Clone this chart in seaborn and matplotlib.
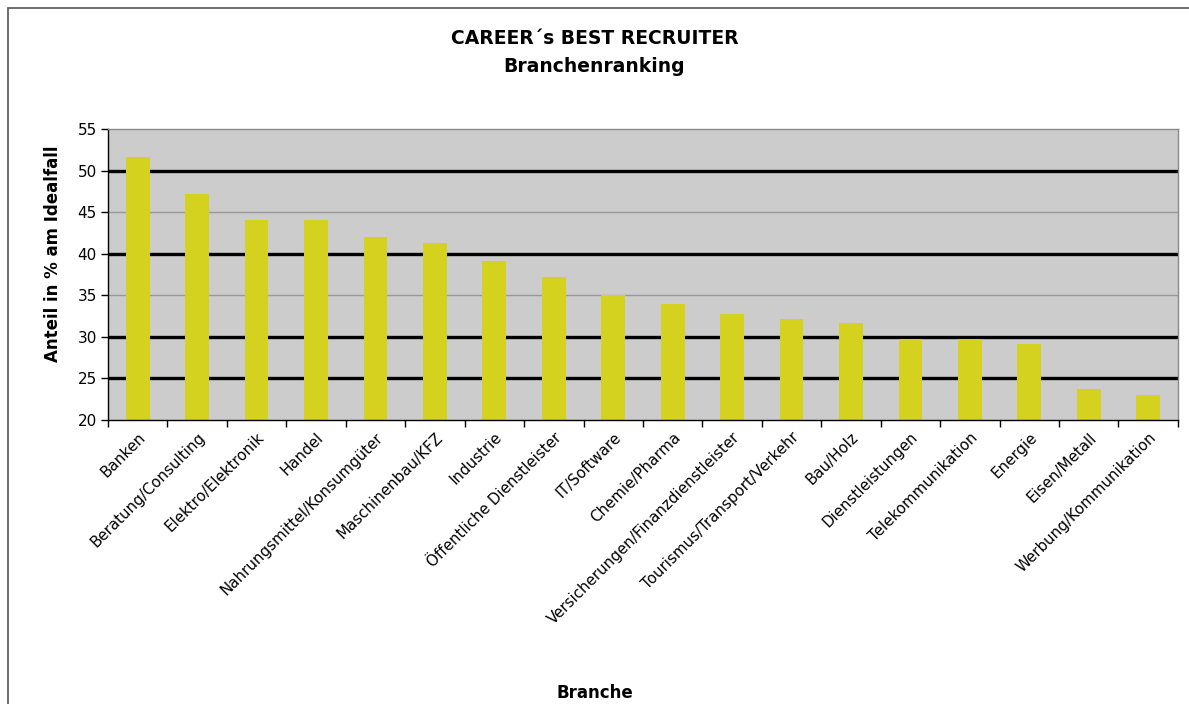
import numpy as np
import pandas as pd
import matplotlib
matplotlib.use("Agg")
import matplotlib.pyplot as plt
import seaborn as sns
from matplotlib.patches import Rectangle

# Data
branchen = [
    "Banken", "Beratung/Consulting", "Elektro/Elektronik", "Handel",
    "Nahrungsmittel/Konsumgüter", "Maschinenbau/KFZ", "Industrie",
    "Öffentliche Dienstleister", "IT/Software", "Chemie/Pharma",
    "Versicherungen/Finanzdienstleister", "Tourismus/Transport/Verkehr",
    "Bau/Holz", "Dienstleistungen", "Telekommunikation", "Energie",
    "Eisen/Metall", "Werbung/Kommunikation",
]
anteil = [51.6, 47.2, 44.1, 44.1, 42.0, 41.3, 39.1, 37.2, 35.0, 33.9,
          32.8, 32.1, 31.7, 29.8, 29.8, 29.1, 23.7, 23.0]
y_ticks = [20, 25, 30, 35, 40, 45, 50, 55]

df = pd.DataFrame({"Branche": branchen, "Anteil": anteil})

sns.set_style("white")
plt.rcParams["font.family"] = ["DejaVu Sans"]
plt.rcParams["text.color"] = "black"
plt.rcParams["axes.labelcolor"] = "black"
plt.rcParams["xtick.color"] = "black"
plt.rcParams["ytick.color"] = "black"
plt.rcParams["xtick.bottom"] = True
plt.rcParams["ytick.left"] = True

fig = plt.figure(figsize=(11.89, 7.04), dpi=100)
ax = fig.add_axes([0.0908, 0.4034, 0.8999, 0.4134])
ax.set_facecolor("#CCCCCC")

# grid lines: thick black and thin grey, as in the original
for v in [50, 40, 30, 25]:
    ax.axhline(v, color="black", lw=2.4, zorder=1)
for v in [45, 35]:
    ax.axhline(v, color="#999999", lw=1.0, zorder=1)

sns.barplot(data=df, x="Branche", y="Anteil", color="#D4D21E",
            saturation=1, width=0.4, linewidth=0, ax=ax, zorder=2)

ax.set_ylim(20, 55)
ax.set_xlim(-0.5, len(branchen) - 0.5)
ax.set_yticks(y_ticks)
ax.set_yticklabels([str(t) for t in y_ticks], fontsize=11)

# ticks at category boundaries, labels centred under bars
ax.set_xticks(np.arange(len(branchen)))
ax.set_xticklabels(branchen, rotation=45, ha="right", rotation_mode="anchor",
                   fontsize=10.8)
ax.tick_params(axis="x", which="major", length=0, pad=7)
ax.set_xticks(np.arange(-0.5, len(branchen)), minor=True)
ax.tick_params(axis="x", which="minor", length=5, width=1, direction="out",
               color="black")
ax.tick_params(axis="y", length=5, width=1, direction="out", color="black", pad=3)

for side in ["left", "bottom"]:
    ax.spines[side].set_color("black")
    ax.spines[side].set_linewidth(1.0)
for side in ["top", "right"]:
    ax.spines[side].set_color("#888888")
    ax.spines[side].set_linewidth(1.0)

ax.set_xlabel("")
ax.set_ylabel("Anteil in % am Idealfall", fontsize=12, fontweight="bold")
ax.yaxis.set_label_coords(-0.043, 0.57)

fig.text(0.5, 0.945, "CAREER´s BEST RECRUITER", ha="center", va="center",
         fontsize=13.5, fontweight="bold")
fig.text(0.5, 0.906, "Branchenranking", ha="center", va="center",
         fontsize=13.5, fontweight="bold")
fig.text(0.5, 0.015, "Branche", ha="center", va="center",
         fontsize=12, fontweight="bold")

# outer chart-area frame
fig.patches.append(Rectangle((0.0067, -0.1), 1.2, 1.0886, transform=fig.transFigure,
                             fill=False, edgecolor="#555555", lw=1.2))

fig.savefig("out.png", dpi=100)
